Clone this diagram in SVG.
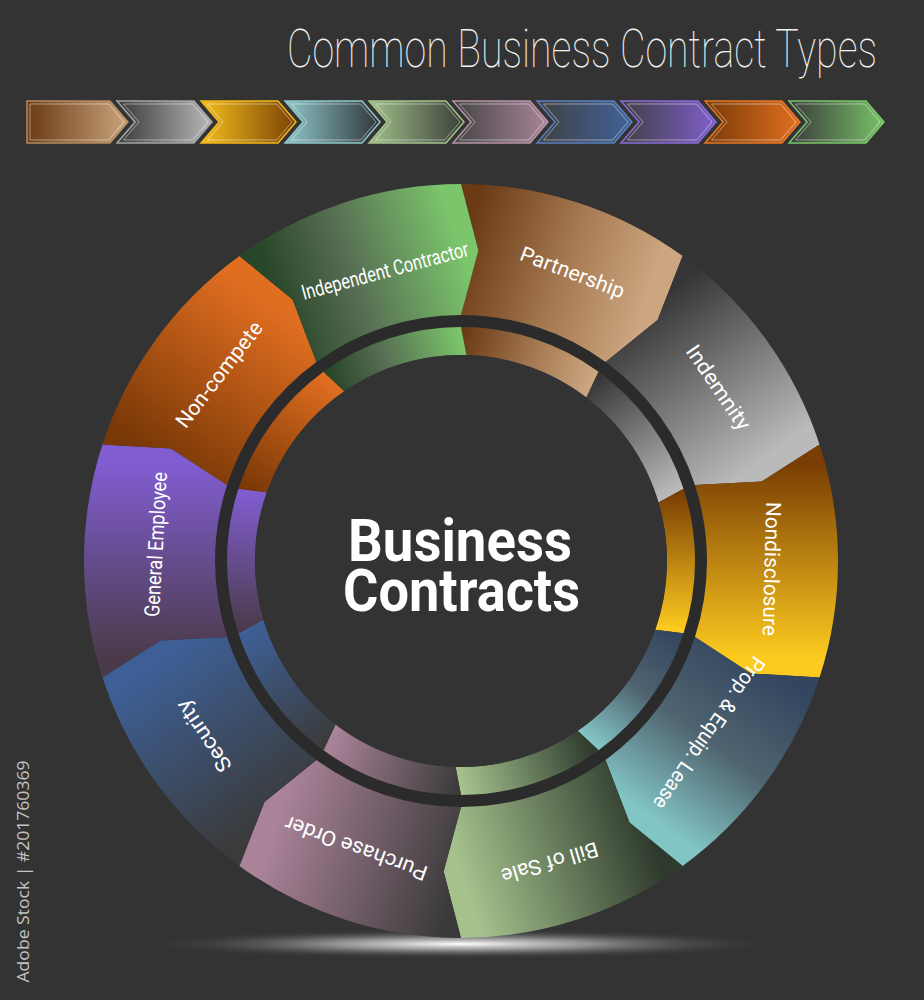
<svg xmlns="http://www.w3.org/2000/svg" width="924" height="1000" viewBox="0 0 924 1000">
<defs>
<style>
.lbl{font-family:Roboto,"Liberation Sans",sans-serif;font-size:21px;fill:#ffffff;text-anchor:middle}
.ctr{font-family:Roboto,"Liberation Sans",sans-serif;font-size:59px;font-weight:700;fill:#ffffff;text-anchor:middle}
.ttl{font-family:Roboto,"Liberation Sans",sans-serif;font-size:54px;font-weight:100;fill:#f2f2f2}
.wm{font-family:"Open Sans","Noto Sans",sans-serif;font-size:17px;fill:#c4c4c4;text-anchor:middle}
.inset{fill:none;stroke:#ffffff;stroke-opacity:0.45;stroke-width:1}
.arr{stroke-width:1.5}
</style>
<linearGradient id="go0" gradientUnits="userSpaceOnUse" x1="461" y1="250" x2="643.8" y2="309.4"><stop offset="0" stop-color="#6a3a14"/><stop offset="0.55" stop-color="#a67a52"/><stop offset="1" stop-color="#cba680"/></linearGradient>
<linearGradient id="go1" gradientUnits="userSpaceOnUse" x1="643.8" y1="309.4" x2="756.78" y2="464.9"><stop offset="0" stop-color="#363636"/><stop offset="1" stop-color="#bababa"/></linearGradient>
<linearGradient id="go2" gradientUnits="userSpaceOnUse" x1="756.78" y1="464.9" x2="756.78" y2="657.1"><stop offset="0" stop-color="#7a3e04"/><stop offset="1" stop-color="#fdca1f"/></linearGradient>
<linearGradient id="go3" gradientUnits="userSpaceOnUse" x1="756.78" y1="657.1" x2="643.8" y2="812.6"><stop offset="0" stop-color="#33455f"/><stop offset="0.5" stop-color="#4f6470"/><stop offset="1" stop-color="#82c5c5"/></linearGradient>
<linearGradient id="go4" gradientUnits="userSpaceOnUse" x1="643.8" y1="812.6" x2="461" y2="872"><stop offset="0" stop-color="#2e3a2d"/><stop offset="1" stop-color="#a5c28d"/></linearGradient>
<linearGradient id="go5" gradientUnits="userSpaceOnUse" x1="461" y1="872" x2="278.2" y2="812.6"><stop offset="0" stop-color="#3a3a3a"/><stop offset="1" stop-color="#ab8399"/></linearGradient>
<linearGradient id="go6" gradientUnits="userSpaceOnUse" x1="278.2" y1="812.6" x2="165.22" y2="657.1"><stop offset="0" stop-color="#3b3b3b"/><stop offset="1" stop-color="#3d5f95"/></linearGradient>
<linearGradient id="go7" gradientUnits="userSpaceOnUse" x1="165.22" y1="657.1" x2="165.22" y2="464.9"><stop offset="0" stop-color="#4b3b4a"/><stop offset="1" stop-color="#805dd0"/></linearGradient>
<linearGradient id="go8" gradientUnits="userSpaceOnUse" x1="165.22" y1="464.9" x2="278.2" y2="309.4"><stop offset="0" stop-color="#793806"/><stop offset="1" stop-color="#e06e21"/></linearGradient>
<linearGradient id="go9" gradientUnits="userSpaceOnUse" x1="278.2" y1="309.4" x2="461" y2="250"><stop offset="0" stop-color="#284628"/><stop offset="0.4" stop-color="#556b52"/><stop offset="1" stop-color="#7bc56b"/></linearGradient>
<linearGradient id="gi0" href="#go0" x1="461" y1="340" x2="590.9" y2="382.21"/>
<linearGradient id="gi1" href="#go1" x1="590.9" y1="382.21" x2="671.18" y2="492.71"/>
<linearGradient id="gi2" href="#go2" x1="671.18" y1="492.71" x2="671.18" y2="629.29"/>
<linearGradient id="gi3" href="#go3" x1="671.18" y1="629.29" x2="590.9" y2="739.79"/>
<linearGradient id="gi4" href="#go4" x1="590.9" y1="739.79" x2="461" y2="782"/>
<linearGradient id="gi5" href="#go5" x1="461" y1="782" x2="331.1" y2="739.79"/>
<linearGradient id="gi6" href="#go6" x1="331.1" y1="739.79" x2="250.82" y2="629.29"/>
<linearGradient id="gi7" href="#go7" x1="250.82" y1="629.29" x2="250.82" y2="492.71"/>
<linearGradient id="gi8" href="#go8" x1="250.82" y1="492.71" x2="331.1" y2="382.21"/>
<linearGradient id="gi9" href="#go9" x1="331.1" y1="382.21" x2="461" y2="340"/>
<linearGradient id="a0"><stop offset="0" stop-color="#6a3b15"/><stop offset="1" stop-color="#caa47d"/></linearGradient>
<linearGradient id="a1"><stop offset="0" stop-color="#3a3a3a"/><stop offset="1" stop-color="#b8b8b8"/></linearGradient>
<linearGradient id="a2"><stop offset="0" stop-color="#f3bf1d"/><stop offset="1" stop-color="#7a4104"/></linearGradient>
<linearGradient id="a3"><stop offset="0" stop-color="#8fc7c9"/><stop offset="1" stop-color="#2f363a"/></linearGradient>
<linearGradient id="a4"><stop offset="0" stop-color="#a3c08b"/><stop offset="1" stop-color="#393f37"/></linearGradient>
<linearGradient id="a5"><stop offset="0" stop-color="#444444"/><stop offset="1" stop-color="#a98599"/></linearGradient>
<linearGradient id="a6"><stop offset="0" stop-color="#404144"/><stop offset="1" stop-color="#406299"/></linearGradient>
<linearGradient id="a7"><stop offset="0" stop-color="#403f45"/><stop offset="1" stop-color="#7f5fcc"/></linearGradient>
<linearGradient id="a8"><stop offset="0" stop-color="#7a3a06"/><stop offset="1" stop-color="#e07021"/></linearGradient>
<linearGradient id="a9"><stop offset="0" stop-color="#3a3a3a"/><stop offset="1" stop-color="#78c268"/></linearGradient>
<radialGradient id="glow" cx="0.5" cy="0.5" r="0.5"><stop offset="0" stop-color="#ffffff" stop-opacity="1"/><stop offset="0.4" stop-color="#cfcfcf" stop-opacity="0.6"/><stop offset="1" stop-color="#333333" stop-opacity="0"/></radialGradient>
<path id="arrF" d="M-101,-21 L-18,-21 L0,0 L-18,21 L-101,21 Z"/>
<path id="arrN" d="M-95,-21 L-18,-21 L0,0 L-18,21 L-95,21 L-77,0 Z"/>
<path id="inF" d="M-98,-18 L-19.4,-18 L-4,0 L-19.4,18 L-98,18 Z"/>
<path id="inN" d="M-88.5,-18 L-19.4,-18 L-4,0 L-19.4,18 L-88.5,18 L-73,0 Z"/>
</defs>

<rect x="0" y="0" width="924" height="1000" fill="#333333"/>

<text class="ttl" transform="translate(287,67) scale(0.71,1)" x="0" y="0" textLength="831" lengthAdjust="spacingAndGlyphs">Common Business Contract Types</text>

<g id="timeline">
<g id="arrow-1"><use href="#arrF" transform="translate(128,122)" fill="url(#a0)" stroke="#b48a62" class="arr"/><use href="#inF" transform="translate(128,122)" class="inset"/></g>
<g id="arrow-2"><use href="#arrN" transform="translate(212,122)" fill="url(#a1)" stroke="#a5a5a5" class="arr"/><use href="#inN" transform="translate(212,122)" class="inset"/></g>
<g id="arrow-3"><use href="#arrN" transform="translate(296,122)" fill="url(#a2)" stroke="#f0b81b" class="arr"/><use href="#inN" transform="translate(296,122)" class="inset"/></g>
<g id="arrow-4"><use href="#arrN" transform="translate(380,122)" fill="url(#a3)" stroke="#8ec5c7" class="arr"/><use href="#inN" transform="translate(380,122)" class="inset"/></g>
<g id="arrow-5"><use href="#arrN" transform="translate(464,122)" fill="url(#a4)" stroke="#a4c18c" class="arr"/><use href="#inN" transform="translate(464,122)" class="inset"/></g>
<g id="arrow-6"><use href="#arrN" transform="translate(548,122)" fill="url(#a5)" stroke="#b793a7" class="arr"/><use href="#inN" transform="translate(548,122)" class="inset"/></g>
<g id="arrow-7"><use href="#arrN" transform="translate(632,122)" fill="url(#a6)" stroke="#5b7fbd" class="arr"/><use href="#inN" transform="translate(632,122)" class="inset"/></g>
<g id="arrow-8"><use href="#arrN" transform="translate(716,122)" fill="url(#a7)" stroke="#8a6bd6" class="arr"/><use href="#inN" transform="translate(716,122)" class="inset"/></g>
<g id="arrow-9"><use href="#arrN" transform="translate(800,122)" fill="url(#a8)" stroke="#e27726" class="arr"/><use href="#inN" transform="translate(800,122)" class="inset"/></g>
<g id="arrow-10"><use href="#arrN" transform="translate(884,122)" fill="url(#a9)" stroke="#7ac56a" class="arr"/><use href="#inN" transform="translate(884,122)" class="inset"/></g>
</g>

<ellipse cx="461" cy="944" rx="320" ry="15" fill="url(#glow)"/>

<circle cx="461" cy="561" r="240" fill="none" stroke="#2b2b2b" stroke-width="12"/>

<g id="connectors"></g>

<g id="partnership">
<path d="M 461 184 A 377 377 0 0 1 682.59 256 L 657.56 319.99 L 605.59 361.98 A 246 246 0 0 0 461 315 L 478.36 250.48 Z" fill="url(#go0)"/>
<path d="M 461 327 A 234 234 0 0 1 598.54 371.69 L 586.4 397.57 A 206 206 0 0 0 466.39 355.07 Z" fill="url(#gi0)"/>
<text class="lbl" transform="translate(572.5,272.5) rotate(20.9)" y="7" textLength="110" lengthAdjust="spacingAndGlyphs">Partnership</text>
</g>
<g id="indemnity">
<path d="M 682.59 256 A 377 377 0 0 1 819.55 444.5 L 761.68 481.56 L 694.96 484.98 A 246 246 0 0 0 605.59 361.98 L 657.56 319.99 Z" fill="url(#go1)"/>
<path d="M 598.54 371.69 A 234 234 0 0 1 683.55 488.69 L 658.52 502.49 A 206 206 0 0 0 586.4 397.57 Z" fill="url(#gi1)"/>
<text class="lbl" transform="translate(718.3,387.5) rotate(55.8)" y="7" textLength="98" lengthAdjust="spacingAndGlyphs">Indemnity</text>
</g>
<g id="nondisclosure">
<path d="M 819.55 444.5 A 377 377 0 0 1 819.55 677.5 L 750.95 673.47 L 694.96 637.02 A 246 246 0 0 0 694.96 484.98 L 761.68 481.56 Z" fill="url(#go2)"/>
<path d="M 683.55 488.69 A 234 234 0 0 1 683.55 633.31 L 655.18 629.76 A 206 206 0 0 0 658.52 502.49 Z" fill="url(#gi2)"/>
<text class="lbl" transform="translate(772,569) rotate(91.5)" y="7.5" textLength="134" lengthAdjust="spacingAndGlyphs">Nondisclosure</text>
</g>
<g id="prop-equip-lease">
<path d="M 819.55 677.5 A 377 377 0 0 1 682.59 866 L 629.47 822.42 L 605.59 760.02 A 246 246 0 0 0 694.96 637.02 L 750.95 673.47 Z" fill="url(#go3)"/>
<path d="M 683.55 633.31 A 234 234 0 0 1 598.54 750.31 L 577.68 730.77 A 206 206 0 0 0 655.18 629.76 Z" fill="url(#gi3)"/>
<text class="lbl" transform="translate(709,733) rotate(124.5)" y="7" textLength="180" lengthAdjust="spacingAndGlyphs">Prop. &amp; Equip. Lease</text>
</g>
<g id="bill-of-sale">
<path d="M 682.59 866 A 377 377 0 0 1 461 938 L 443.64 871.52 L 461 807 A 246 246 0 0 0 605.59 760.02 L 629.47 822.42 Z" fill="url(#go4)"/>
<path d="M 598.54 750.31 A 234 234 0 0 1 461 795 L 455.61 766.93 A 206 206 0 0 0 577.68 730.77 Z" fill="url(#gi4)"/>
<text class="lbl" transform="translate(550,863) rotate(163.6)" y="7.5" textLength="100" lengthAdjust="spacingAndGlyphs">Bill of Sale</text>
</g>
<g id="purchase-order">
<path d="M 461 938 A 377 377 0 0 1 239.41 866 L 264.44 802.01 L 316.41 760.02 A 246 246 0 0 0 461 807 L 443.64 871.52 Z" fill="url(#go5)"/>
<path d="M 461 795 A 234 234 0 0 1 323.46 750.31 L 335.6 724.43 A 206 206 0 0 0 455.61 766.93 Z" fill="url(#gi5)"/>
<text class="lbl" transform="translate(356,848.5) rotate(200.1)" y="7.5" textLength="150" lengthAdjust="spacingAndGlyphs">Purchase Order</text>
</g>
<g id="security">
<path d="M 239.41 866 A 377 377 0 0 1 102.45 677.5 L 160.32 640.44 L 227.04 637.02 A 246 246 0 0 0 316.41 760.02 L 264.44 802.01 Z" fill="url(#go6)"/>
<path d="M 323.46 750.31 A 234 234 0 0 1 238.45 633.31 L 263.48 619.51 A 206 206 0 0 0 335.6 724.43 Z" fill="url(#gi6)"/>
<text class="lbl" transform="translate(204,736) rotate(235.8)" y="7" textLength="82" lengthAdjust="spacingAndGlyphs">Security</text>
</g>
<g id="general-employee">
<path d="M 102.45 677.5 A 377 377 0 0 1 102.45 444.5 L 171.05 448.53 L 227.04 484.98 A 246 246 0 0 0 227.04 637.02 L 160.32 640.44 Z" fill="url(#go7)"/>
<path d="M 238.45 633.31 A 234 234 0 0 1 238.45 488.69 L 266.82 492.24 A 206 206 0 0 0 263.48 619.51 Z" fill="url(#gi7)"/>
<text class="lbl" transform="translate(156,544.5) rotate(273.1)" y="7" textLength="145" lengthAdjust="spacingAndGlyphs">General Employee</text>
</g>
<g id="non-compete">
<path d="M 102.45 444.5 A 377 377 0 0 1 239.41 256 L 292.53 299.58 L 316.41 361.98 A 246 246 0 0 0 227.04 484.98 L 171.05 448.53 Z" fill="url(#go8)"/>
<path d="M 238.45 488.69 A 234 234 0 0 1 323.46 371.69 L 344.32 391.23 A 206 206 0 0 0 266.82 492.24 Z" fill="url(#gi8)"/>
<text class="lbl" transform="translate(218.8,374.2) rotate(307.6)" y="7.5" textLength="128" lengthAdjust="spacingAndGlyphs">Non-compete</text>
</g>
<g id="independent-contractor">
<path d="M 239.41 256 A 377 377 0 0 1 461 184 L 478.36 250.48 L 461 315 A 246 246 0 0 0 316.41 361.98 L 292.53 299.58 Z" fill="url(#go9)"/>
<path d="M 323.46 371.69 A 234 234 0 0 1 461 327 L 466.39 355.07 A 206 206 0 0 0 344.32 391.23 Z" fill="url(#gi9)"/>
<text class="lbl" transform="translate(385,271) rotate(345)" y="7" textLength="172" lengthAdjust="spacingAndGlyphs">Independent Contractor</text>
</g>

<g id="center">
<circle cx="461" cy="561" r="206" fill="#333333"/>
<text class="ctr"><tspan x="460" y="561" textLength="224" lengthAdjust="spacingAndGlyphs">Business</tspan><tspan x="461.5" y="611" textLength="237" lengthAdjust="spacingAndGlyphs">Contracts</tspan></text>
</g>

<text class="wm" transform="translate(22.5,871.5) rotate(-90)" y="6" textLength="222" lengthAdjust="spacingAndGlyphs">Adobe Stock | #201760369</text>
</svg>
